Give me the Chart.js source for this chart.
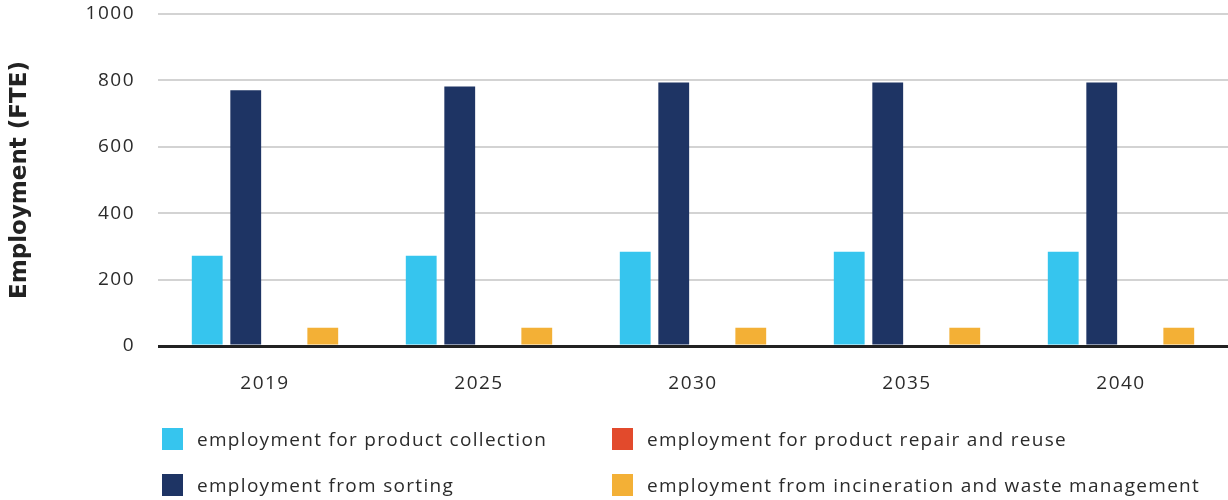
<!DOCTYPE html>
<html>
<head>
<meta charset="utf-8">
<script src="https://cdn.jsdelivr.net/npm/chart.js@4/dist/chart.umd.min.js"></script>
<style>
  html, body { margin: 0; padding: 0; background: #ffffff; }
  #wrap { position: relative; width: 1228px; height: 500px; overflow: hidden; }
  #chart { position: absolute; left: 0; top: 0; }
  #legend { position: absolute; left: 0; top: 0; width: 1228px; height: 500px; pointer-events: none; }
  .item { position: absolute; display: flex; align-items: center; font-family: "Open Sans", sans-serif; font-size: 19px; letter-spacing: 1.3px; color: #2b2b2b; white-space: nowrap; }
  .swatch { width: 21px; height: 22px; margin-right: 14px; flex: none; }
</style>
</head>
<body>
<div id="wrap">
  <canvas id="chart" width="1228" height="402"></canvas>
  <div id="legend"></div>
</div>
<script>
// Years on the x axis
const years = ['2019', '2025', '2030', '2035', '2040'];

// Full-time equivalent jobs per activity
const collection = [272, 272, 284, 284, 284];
const repairReuse = [0, 0, 0, 0, 0];
const sorting = [770, 782, 794, 794, 794];
const incineration = [55, 55, 55, 55, 55];

const seriesNames = [
  'employment for product collection',
  'employment for product repair and reuse',
  'employment from sorting',
  'employment from incineration and waste management'
];
const seriesColors = ['#36c5ee', '#e24a2c', '#1e3464', '#f3b036'];

const yTicks = [0, 200, 400, 600, 800, 1000];

// Tick labels get a slightly open letter spacing; the axis title stays tight.
// Tick labels sit on layer z=1, so they are drawn after the datasets.
const spacingPlugin = {
  id: 'spacing',
  beforeLayout(chart) { chart.ctx.letterSpacing = '1.5px'; },
  beforeDraw(chart) { chart.ctx.letterSpacing = '0px'; },
  afterDatasetsDraw(chart) { chart.ctx.letterSpacing = '1.5px'; }
};

const ctx = document.getElementById('chart');
const chart = new Chart(ctx, {
  type: 'bar',
  plugins: [spacingPlugin],
  data: {
    labels: years,
    datasets: [
      { label: seriesNames[0], data: collection, backgroundColor: seriesColors[0] },
      { label: seriesNames[2], data: sorting, backgroundColor: seriesColors[2] },
      { label: seriesNames[1], data: repairReuse, backgroundColor: seriesColors[1] },
      { label: seriesNames[3], data: incineration, backgroundColor: seriesColors[3] }
    ]
  },
  options: {
    responsive: false,
    animation: false,
    datasets: { bar: { categoryPercentage: 0.72, barPercentage: 0.8 } },
    layout: { padding: { top: 14, right: 0, bottom: 0, left: 0 } },
    plugins: { legend: { display: false }, tooltip: { enabled: false } },
    scales: {
      x: {
        afterFit: (s) => { s.height = 56; s.paddingLeft = 0; s.paddingRight = 0; },
        grid: { display: false, drawTicks: false },
        border: { display: false },
        ticks: { z: 1, padding: 26, color: '#2b2b2b', font: { family: 'Open Sans', size: 19 } }
      },
      y: {
        min: 0,
        max: 1000,
        afterBuildTicks: (s) => { s.ticks = yTicks.map(v => ({ value: v })); },
        afterFit: (s) => { s.width = 158; s.paddingTop = 0; s.paddingBottom = 0; },
        grid: {
          drawTicks: false,
          color: (c) => c.tick && c.tick.value === 0 ? '#222222' : '#d3d3d3',
          lineWidth: (c) => c.tick && c.tick.value === 0 ? 3 : 2
        },
        border: { display: false },
        ticks: {
          z: 1,
          padding: 23,
          color: '#2b2b2b',
          font: { family: 'Open Sans', size: 19 },
          callback: (v) => String(v)
        },
        title: {
          display: true,
          text: 'Employment (FTE)',
          color: '#222222',
          padding: { top: 6, bottom: 0 },
          font: { family: 'DejaVu Sans', size: 23, weight: 'bold' }
        }
      }
    }
  }
});

// Two-column legend under the plot
const legendEl = document.getElementById('legend');
const legendSpots = [
  { x: 162, y: 439 }, { x: 612, y: 439 },
  { x: 162, y: 485 }, { x: 612, y: 485 }
];
seriesNames.forEach((name, i) => {
  const item = document.createElement('div');
  item.className = 'item';
  item.style.left = legendSpots[i].x + 'px';
  item.style.top = (legendSpots[i].y - 13) + 'px';
  item.style.height = '26px';
  const sw = document.createElement('span');
  sw.className = 'swatch';
  sw.style.background = seriesColors[i];
  const tx = document.createElement('span');
  tx.textContent = name;
  item.appendChild(sw);
  item.appendChild(tx);
  legendEl.appendChild(item);
});
</script>
</body>
</html>
